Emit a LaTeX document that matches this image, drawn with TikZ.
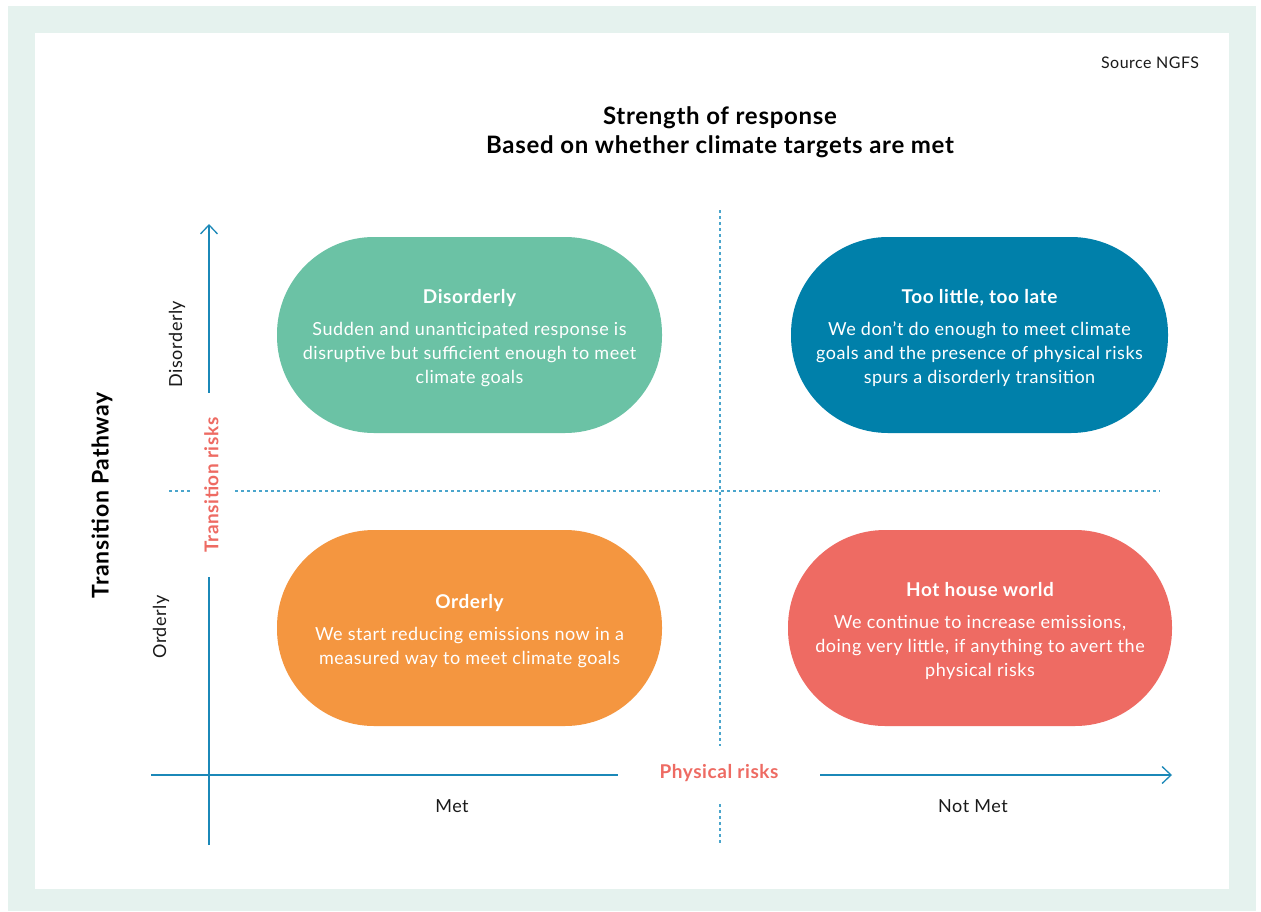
\documentclass[tikz,border=0pt]{standalone}
\usepackage{fontspec}
\setmainfont{Lato}[LetterSpace=3]
\usetikzlibrary{arrows.meta}
\definecolor{bgmint}{HTML}{E5F2EE}
\definecolor{pgreen}{HTML}{6BC2A5}
\definecolor{pblue}{HTML}{0080AA}
\definecolor{porange}{HTML}{F49640}
\definecolor{pred}{HTML}{EE6B63}
\definecolor{axisblue}{HTML}{1B88B8}
\definecolor{dotblue}{HTML}{4AA5CC}
\definecolor{txt}{HTML}{1A1A1A}
\newcommand{\pillhead}[1]{{\fontsize{19}{24}\selectfont\bfseries #1}}
\tikzset{
  pill/.style={rounded corners=97pt, minimum width=385pt, minimum height=196pt, inner sep=0pt},
  pilltext/.style={text=white, align=center, font=\fontsize{18}{24}\selectfont, inner sep=0pt},
  axisline/.style={draw=axisblue, line width=1.3pt},
  guide/.style={draw=dotblue, line width=1.3pt, dash pattern=on 3pt off 3pt},
  risklabel/.style={fill=white, text=pred, font=\fontsize{19}{22}\selectfont\bfseries, inner sep=0pt},
  axtext/.style={text=txt, font=\fontsize{18}{20}\selectfont, inner sep=0pt},
}
\begin{document}
\begin{tikzpicture}[x=1pt, y=-1pt]
\useasboundingbox (0,0) rectangle (1261,911);
\fill[bgmint] (8,6) rectangle (1256,911);
\fill[white] (35,33) rectangle (1229,889);

% guides
\coordinate (gvt) at (720,210);
\coordinate (gvb) at (720,845);
\coordinate (ghl) at (169,491);
\coordinate (ghr) at (1160,491);
\draw[guide] (gvt) -- (gvb);
\draw[guide] (ghl) -- (ghr);

% axes
\coordinate (yb) at (209,845);
\coordinate (yt) at (209,224);
\coordinate (xl) at (151,775);
\coordinate (xr) at (1172,775);
\draw[axisline, -{Straight Barb[length=9pt,width=17pt,line width=1.3pt]}] (yb) -- (yt);
\draw[axisline, -{Straight Barb[length=9pt,width=17pt,line width=1.3pt]}] (xl) -- (xr);

% axis labels
\node[risklabel, rotate=90, minimum width=184pt, minimum height=41pt] (trisk) at (211.5,485) {Transition risks};
\node[risklabel, minimum width=202pt, minimum height=55pt] (prisk) at (719,773.5) {Physical risks};

\node[axtext, rotate=90] (dis) at (177,344) {Disorderly};
\node[axtext, rotate=90] (ord) at (161,627) {Orderly};
\node[axtext] (met) at (452,806) {Met};
\node[axtext] (notmet) at (973,806) {Not Met};
\node[text=black, rotate=90, font=\fontsize{23}{26}\selectfont\bfseries, inner sep=0pt] (tp) at (102,495) {Transition Pathway};

% title
\node[text=black, align=center, font=\fontsize{24}{29}\selectfont\bfseries, inner sep=0pt] (title) at (720,132) {Strength of response\\Based on whether climate targets are met};
\node[axtext, font=\fontsize{16}{18}\selectfont] (src) at (1150,63) {Source NGFS};

% pills
\node[pill, fill=pgreen] (pdis) at (469.5,335) {};
\node[pill, fill=pblue, minimum width=377pt] (ptoo) at (979.5,335) {};
\node[pill, fill=porange] (pord) at (469.5,628) {};
\node[pill, fill=pred, minimum width=384pt] (phot) at (980,628) {};

\node[pilltext] (tdis) at ([yshift=-3pt]pdis.center) {\pillhead{Disorderly}\\[8pt]Sudden and unanticipated response is\\disruptive but sufficient enough to meet\\climate goals};
\node[pilltext] (ttoo) at ([yshift=-3pt]ptoo.center) {\pillhead{Too little, too late}\\[8pt]We don’t do enough to meet climate\\goals and the presence of physical risks\\spurs a disorderly transition};
\node[pilltext] (tord) at ([yshift=-3pt]pord.center) {\pillhead{Orderly}\\[8pt]We start reducing emissions now in a\\measured way to meet climate goals};
\node[pilltext] (thot) at ([yshift=-3pt]phot.center) {\pillhead{Hot house world}\\[8pt]We continue to increase emissions,\\doing very little, if anything to avert the\\physical risks};
\end{tikzpicture}
\end{document}
